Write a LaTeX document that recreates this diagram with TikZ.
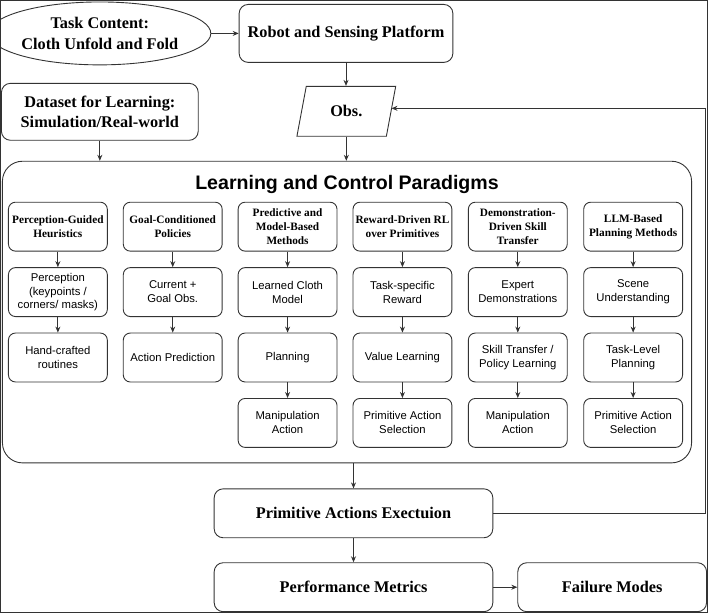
\documentclass[tikz,border=0pt]{standalone}
\usepackage{fontspec}
\setmainfont{Liberation Serif}
\setsansfont{Liberation Sans}
\usetikzlibrary{shapes.geometric,arrows.meta}
\begin{document}
\begin{tikzpicture}[x=1pt,y=-1pt,
  every path/.style={draw=black!80, line width=0.9pt},
  arr/.style={-{Stealth[length=6pt,width=5pt]}, draw=black!80, line width=0.9pt},
  topfont/.style={font=\fontsize{16.3}{20.5}\selectfont\bfseries},
  topbox/.style={draw=black!80, rounded corners=9pt, topfont, align=center, inner sep=0pt},
  hdr/.style={draw=black!80, rounded corners=7pt, minimum width=99pt, minimum height=49pt, font=\fontsize{11.3}{14}\selectfont\bfseries, align=center, inner sep=0pt},
  cell/.style={draw=black!80, rounded corners=7pt, minimum width=99pt, minimum height=49pt, font=\sffamily\fontsize{11.3}{14}\selectfont, align=center, inner sep=0pt},
]
\useasboundingbox (0,0) rectangle (708,613);

% top section
\node[ellipse, draw=black!80, minimum width=196pt, minimum height=63pt, topfont, align=center, inner sep=0pt] (task) at (99.5,33) {Task Content:\\Cloth Unfold and Fold};
\node[topbox, minimum width=214pt, minimum height=58pt] (robot) at (346,33) {Robot and Sensing Platform};
\node[trapezium, trapezium left angle=72, trapezium right angle=108, trapezium stretches=true, draw=black!80, minimum width=99pt, minimum height=50pt, topfont, inner sep=0pt] (obs) at (346.3,111) {Obs.};
\node[topbox, minimum width=197pt, minimum height=57pt] (data) at (99.5,111.5) {Dataset for Learning:\\Simulation/Real-world};

% learning container
\node[draw=black!80, rounded corners=20pt, minimum width=690pt, minimum height=302pt, inner sep=0pt] (learn) at (347,312) {};
\node[font=\sffamily\bfseries\fontsize{19.6}{24}\selectfont, inner sep=0pt] (title) at (347,184) {Learning and Control Paradigms};

% column 1
\node[hdr] (h1) at (57.5,226.5) {Perception-Guided\\Heuristics};
\node[cell] (c11) at (57.5,292) {Perception\\(keypoints /\\corners/ masks)};
\node[cell] (c12) at (57.5,357.5) {Hand-crafted\\routines};
% column 2
\node[hdr] (h2) at (172.5,226.5) {Goal-Conditioned\\Policies};
\node[cell] (c21) at (172.5,292) {Current +\\Goal Obs.};
\node[cell] (c22) at (172.5,357.5) {Action Prediction};
% column 3
\node[hdr] (h3) at (287.5,226.5) {Predictive and\\Model-Based\\Methods};
\node[cell] (c31) at (287.5,292) {Learned Cloth\\Model};
\node[cell] (c32) at (287.5,357.5) {Planning};
\node[cell] (c33) at (287.5,423) {Manipulation\\Action};
% column 4
\node[hdr] (h4) at (402.5,226.5) {Reward-Driven RL\\over Primitives};
\node[cell] (c41) at (402.5,292) {Task-specific\\Reward};
\node[cell] (c42) at (402.5,357.5) {Value Learning};
\node[cell] (c43) at (402.5,423) {Primitive Action\\Selection};
% column 5
\node[hdr] (h5) at (518,226.5) {Demonstration-\\Driven Skill\\Transfer};
\node[cell] (c51) at (518,292) {Expert\\Demonstrations};
\node[cell] (c52) at (518,357.5) {Skill Transfer /\\Policy Learning};
\node[cell] (c53) at (518,423) {Manipulation\\Action};
% column 6
\node[hdr] (h6) at (633.5,226.5) {LLM-Based\\Planning Methods};
\node[cell] (c61) at (633.5,292) {Scene\\Understanding};
\node[cell] (c62) at (633.5,357.5) {Task-Level\\Planning};
\node[cell] (c63) at (633.5,423) {Primitive Action\\Selection};

% bottom section
\node[topbox, minimum width=279pt, minimum height=49pt] (prim) at (353.5,513.5) {Primitive Actions Exectuion};
\node[topbox, minimum width=279pt, minimum height=49pt] (perf) at (353.5,587.5) {Performance Metrics};
\node[topbox, minimum width=189pt, minimum height=49pt] (fail) at (612.5,587.5) {Failure Modes};

% connectors
\draw[arr] (task.east) -- (robot.west);
\draw[arr] (robot.south) -- (robot.south |- obs.north);
\draw[arr] (data.south) -- (data.south |- learn.north);
\draw[arr] (obs.center |- obs.south) -- (obs.center |- learn.north);
\draw[arr] (h1) -- (c11); \draw[arr] (c11) -- (c12);
\draw[arr] (h2) -- (c21); \draw[arr] (c21) -- (c22);
\draw[arr] (h3) -- (c31); \draw[arr] (c31) -- (c32); \draw[arr] (c32) -- (c33);
\draw[arr] (h4) -- (c41); \draw[arr] (c41) -- (c42); \draw[arr] (c42) -- (c43);
\draw[arr] (h5) -- (c51); \draw[arr] (c51) -- (c52); \draw[arr] (c52) -- (c53);
\draw[arr] (h6) -- (c61); \draw[arr] (c61) -- (c62); \draw[arr] (c62) -- (c63);
\draw[arr] (prim.north |- learn.south) -- (prim.north);
\draw[arr] (prim) -- (perf);
\draw[arr] (perf.east) -- (fail.west);
\coordinate (fbc) at (706,513.5);
\draw[arr] (prim.east) -- (fbc) |- ([yshift=3pt]obs.east);
\end{tikzpicture}
\end{document}
